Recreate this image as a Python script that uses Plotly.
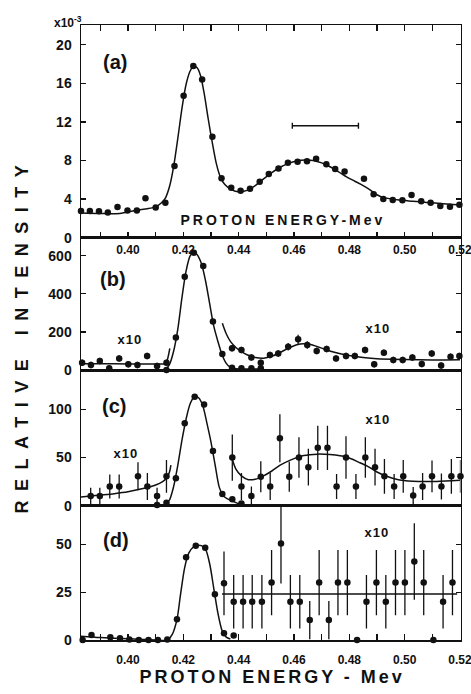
import plotly.graph_objects as go

# ---------------- data ----------------
# panel (a)
a_x = [0.3830,0.3862,0.3895,0.3927,0.3962,0.3998,0.4032,0.4063,0.4100,0.4135,0.4168,0.4201,0.4236,0.4268,
       0.4305,0.4338,0.4373,0.4407,0.4441,0.4476,0.4509,0.4544,0.4578,0.4613,0.4647,0.4680,0.4717,0.4749,
       0.4783,0.4853,0.4888,0.4923,0.4957,0.4992,0.5025,0.5060,0.5094,0.5129,0.5164,0.5198]
a_y = [2.76,2.76,2.73,2.60,3.18,2.83,2.83,4.10,3.14,3.63,7.43,14.7,17.8,16.4,
       10.47,6.15,5.18,4.87,5.08,5.80,6.60,7.18,7.77,7.88,7.91,8.19,7.60,7.12,
       6.87,6.11,4.49,4.00,3.90,3.87,4.42,3.77,3.63,3.28,3.21,3.42]
a_fit_x = [0.383,0.390,0.397,0.403,0.407,0.410,0.412,0.4135,0.415,0.4165,0.418,0.4195,0.421,0.4225,0.4238,
           0.425,0.4262,0.4275,0.429,0.4305,0.432,0.4335,0.435,0.4375,0.440,0.443,0.446,0.449,0.452,0.455,
           0.458,0.461,0.464,0.467,0.470,0.473,0.476,0.479,0.482,0.485,0.4875,0.490,0.4925,0.498,0.503,
           0.508,0.514,0.520]
a_fit_y = [2.55,2.5,2.52,2.85,3.0,3.2,3.6,4.1,5.3,7.4,10.3,13.4,15.9,17.3,17.8,
           17.6,16.8,15.0,12.3,9.8,7.6,6.2,5.5,4.95,4.75,4.9,5.4,6.1,6.75,7.3,
           7.7,7.95,8.05,8.0,7.75,7.35,6.85,6.3,5.85,5.4,4.95,4.45,4.15,3.9,3.78,
           3.66,3.52,3.4]
res_bar_left, res_bar_right, res_bar_y = 0.4594, 0.4833, 11.6

# panel (b)
b_main_x = [0.4139,0.4173,0.4205,0.4238,0.4272,0.4307,0.4341,0.4376,0.4410,0.4446,0.4480]
b_main_y = [0,170,490,616,546,254,84,12,9,9,9]
b_main_fit_x = [0.4135,0.415,0.4165,0.418,0.4195,0.421,0.4225,0.4238,0.425,0.4265,0.428,0.4295,0.431,
                0.4325,0.434,0.4355,0.437,0.439,0.442,0.448]
b_main_fit_y = [0,30,100,215,380,520,600,618,605,560,470,350,230,150,80,35,14,7,5,5]
b_left_x = [0.3834,0.3866,0.3898,0.3932,0.3968,0.4001,0.4034,0.4069,0.4105,0.4139]
b_left_y = [38,26,47,9,61,30,26,73,21,38]
b_left_err = [17,17,17,17,17,17,17,17,17,17]
b_left_fit_x = [0.383,0.390,0.400,0.410,0.4137,0.4145,0.4151]
b_left_fit_y = [33,33,32,32,35,70,114]
b_right_x = [0.4376,0.4410,0.4446,0.4480,0.4513,0.4543,0.4579,0.4615,0.4648,0.4682,0.4718,0.4752,0.4788,
             0.4820,0.4857,0.4890,0.4925,0.4959,0.4993,0.5028,0.5062,0.5098,0.5132,0.5166,0.5198]
b_right_y = [114,105,66,38,79,87,122,161,131,100,110,61,73,73,105,30,91,52,52,66,31,87,23,70,73]
b_right_err = [17,17,17,17,17,17,20,24,20,17,17,17,17,17,17,17,17,17,17,17,17,17,17,17,17]
b_right_fit_x = [0.4341,0.4355,0.437,0.439,0.441,0.443,0.446,0.449,0.452,0.455,0.458,0.461,0.4635,0.466,
                 0.469,0.472,0.476,0.480,0.485,0.490,0.500,0.510,0.520]
b_right_fit_y = [245,190,150,118,96,80,66,62,72,92,115,133,138,134,120,104,88,76,66,59,55,53,54]

# panel (c)
c_main_x = [0.4105,0.4139,0.4173,0.4205,0.4241,0.4275,0.4307,0.4341,0.4377,0.4410]
c_main_y = [0.7,3.1,28.4,85.5,113,105,56.7,12.1,6.6,2.4]
c_main_fit_x = [0.412,0.4135,0.415,0.4165,0.418,0.4195,0.421,0.4225,0.424,0.4255,0.427,0.4285,0.430,
                0.4315,0.433,0.4345,0.436,0.438,0.440,0.4425]
c_main_fit_y = [0,1.5,6,20,42,68,90,106,113,112,104,86,66,42,19,10,7,4.5,2,0]
c_left_x = [0.3865,0.3898,0.3934,0.3968,0.4036,0.4070,0.4105,0.4139]
c_left_y = [10,10,20,20,30.5,20,10,30.5]
c_left_err = [8.6,8.6,12.5,12.5,14.5,14,8.6,17]
c_left_fit_x = [0.383,0.390,0.395,0.400,0.405,0.410,0.4125,0.4139,0.415,0.4155]
c_left_fit_y = [9,11,12.5,14.5,17.5,21.5,25,28.5,35,42]
c_right_x = [0.4377,0.4410,0.4446,0.4480,0.4514,0.4549,0.4583,0.4618,0.4652,0.4686,0.4721,0.4754,0.4788,
             0.4824,0.4858,0.4893,0.4927,0.4962,0.4995,0.5031,0.5065,0.5099,0.5133,0.5169,0.5202]
c_right_y = [50,20,10,30,20,70,30,50,40,60,60,20,50,20,50,40,30.5,20,30.5,10.5,20,30.5,20,30.5,30.5]
c_right_err = [24,14,10,16,14,25,15.5,21,19,23,23,13,22,13,21,19,18,13,17,9,14,16.5,13.5,18,17]
c_right_fit_x = [0.4375,0.439,0.441,0.4435,0.446,0.449,0.452,0.455,0.4585,0.4635,0.4685,0.473,0.479,
                 0.4835,0.4865,0.490,0.4935,0.497,0.503,0.5115,0.520]
c_right_fit_y = [50,38,31,27,27.5,31,36,42,47,52,53.5,53,50.5,45,41,35,30.5,27.5,25.4,25.2,26.4]

# panel (d)
d_main_x = [0.3836,0.3868,0.3936,0.3971,0.4005,0.4039,0.4074,0.4108,0.4142,0.4177,0.4210,0.4245,0.4279,
            0.4314,0.4347,0.4382]
d_main_y = [0,2.6,1.4,0.9,0.3,0,0,0,0.2,10.8,43.2,49.3,48.2,23.9,3.5,2.3]
d_main_fit_x = [0.383,0.390,0.400,0.405,0.410,0.4142,0.416,0.4177,0.419,0.4205,0.422,0.4235,0.425,0.4265,
                0.428,0.4295,0.431,0.4325,0.434,0.4355,0.437]
d_main_fit_y = [2.0,1.3,0.6,0.3,0,0,3,10.8,24,38,45.5,48.5,49.5,49.3,47.5,40,27,14,5,1.5,0.5]
d_right_x = [0.4347,0.4382,0.4416,0.4449,0.4484,0.4519,0.4553,0.4587,0.4621,0.4657,0.4691,0.4726,0.4759,
             0.4793,0.4828,0.4862,0.4898,0.4932,0.4967,0.5001,0.5035,0.5069,0.5104,0.5139,0.5173]
d_right_y = [29.6,20,20,20,20,30,50.5,20,20,10.4,30,10.4,30,30,0,20,30,20,30,30,41,30,0,20,30]
d_right_err = [16.7,14,14,14,14,17,21,14,14,10,17,10,17,17,0,14,17,14,17,17,20,17,0,14,17]
d_right_fit_x = [0.434,0.519]
d_right_fit_y = [24,24]

x_tick_vals = [0.40,0.42,0.44,0.46,0.48,0.50,0.52]
x_tick_text = ['0.40','0.42','0.44','0.46','0.48','0.50','0.52']
a_ticks = [0,4,8,12,16,20]
b_ticks = [0,200,400,600]
c_ticks = [0,50,100]
d_ticks = [0,25,50]

# ---------------- layout helpers ----------------
W, H = 471, 694
def px(x): return x / W
def py(y): return 1 - y / H

FONT = "Liberation Sans"
INK = "#111111"
X_RANGE = [0.383, 0.5202]
XDOM = [px(81), px(460.5)]
panels = {  # pixel top, bottom, y range
    1: (25, 237.7, [0, 22.04]),
    2: (237.7, 370, [0, 694.5]),
    3: (370, 505.7, [0, 140.8]),
    4: (505.7, 640, [0, 70.2]),
}

fig = go.Figure()

def pts(x, y, n, err=None):
    kw = {}
    if err is not None:
        kw['error_y'] = dict(type='data', array=err, visible=True, color=INK, thickness=1.3, width=0)
    fig.add_trace(go.Scatter(x=x, y=y, mode='markers', xaxis=f'x{n if n>1 else ""}', yaxis=f'y{n if n>1 else ""}',
                             marker=dict(color=INK, size=6.5), cliponaxis=False, showlegend=False, **kw))

def curve(x, y, n, shape='spline'):
    fig.add_trace(go.Scatter(x=x, y=y, mode='lines', xaxis=f'x{n if n>1 else ""}', yaxis=f'y{n if n>1 else ""}',
                             line=dict(color=INK, width=1.5, shape=shape, smoothing=0.8),
                             cliponaxis=False, showlegend=False))

# (a)
curve(a_fit_x, a_fit_y, 1)
pts(a_x, a_y, 1)
fig.add_trace(go.Scatter(x=[(res_bar_left + res_bar_right) / 2], y=[res_bar_y], mode='markers',
                         marker=dict(size=1, color='rgba(0,0,0,0)'),
                         error_x=dict(type='constant', value=(res_bar_right - res_bar_left) / 2,
                                      color=INK, thickness=1.4, width=3),
                         showlegend=False))
# (b)
curve(b_main_fit_x, b_main_fit_y, 2)
curve(b_left_fit_x, b_left_fit_y, 2)
curve(b_right_fit_x, b_right_fit_y, 2)
pts(b_main_x, b_main_y, 2)
pts(b_left_x, b_left_y, 2, b_left_err)
pts(b_right_x, b_right_y, 2, b_right_err)
# (c)
curve(c_main_fit_x, c_main_fit_y, 3)
curve(c_left_fit_x, c_left_fit_y, 3)
curve(c_right_fit_x, c_right_fit_y, 3)
pts(c_main_x, c_main_y, 3)
pts(c_left_x, c_left_y, 3, c_left_err)
pts(c_right_x, c_right_y, 3, c_right_err)
# (d)
curve(d_main_fit_x, d_main_fit_y, 4)
curve(d_right_fit_x, d_right_fit_y, 4, shape='linear')
pts(d_main_x, d_main_y, 4)
pts(d_right_x, d_right_y, 4, d_right_err)

layout = dict(width=W, height=H, margin=dict(l=0, r=0, t=0, b=0, pad=0), autosize=False,
              paper_bgcolor='white', plot_bgcolor='white', showlegend=False)

yticks = {1: a_ticks, 2: b_ticks, 3: c_ticks, 4: d_ticks}
for n, (top, bot, yr) in panels.items():
    sfx = '' if n == 1 else str(n)
    xa = dict(domain=XDOM, range=X_RANGE, anchor=f'y{sfx}', showgrid=False, zeroline=False,
              showline=True, linecolor=INK, linewidth=1.5, mirror=True, fixedrange=True,
              automargin=False)
    if n in (1, 4):
        xa.update(tickmode='array', tickvals=x_tick_vals, ticktext=x_tick_text, ticks='inside',
                  ticklen=6, tickwidth=1.3, tickcolor=INK, ticklabeloverflow='allow',
                  minor=dict(tickmode='linear', tick0=0.39, dtick=0.01, ticks='inside', ticklen=6,
                             tickwidth=1.3, tickcolor=INK, showgrid=False),
                  tickfont=dict(family=FONT, size=12, color=INK, weight='bold'))
        xa['mirror'] = 'ticks' if n == 1 else True
        xa['ticklabelstandoff'] = 0 if n == 1 else 8
    else:
        xa.update(showticklabels=False, ticks='')
    ya = dict(domain=[py(bot), py(top)], range=yr, anchor=f'x{sfx}', showgrid=False, zeroline=False,
              showline=True, linecolor=INK, linewidth=1.5, mirror='ticks', ticks='inside', ticklen=5,
              tickwidth=1.3, tickcolor=INK, tickmode='array', tickvals=yticks[n],
              tickfont=dict(family=FONT, size=14, color=INK, weight='bold'), ticklabelstandoff=5,
              fixedrange=True, automargin=False)
    layout[f'xaxis{sfx}'] = xa
    layout[f'yaxis{sfx}'] = ya

def ann(text, x, y, size, xanchor='center', yanchor='middle', angle=0):
    return dict(text=text, x=px(x), y=py(y), xref='paper', yref='paper', showarrow=False,
                xanchor=xanchor, yanchor=yanchor, textangle=angle,
                font=dict(family=FONT, size=size, color=INK, weight='bold'))

layout['annotations'] = [
    ann('x10<sup>-3</sup>', 84, 22, 12, xanchor='right'),
    ann('(a)', 115, 62, 20),
    ann('(b)', 113, 279, 20),
    ann('(c)', 114, 406, 20),
    ann('(d)', 116, 540, 20),
    ann('x10', 130, 339, 13),
    ann('x10', 378, 328, 13),
    ann('x10', 126, 453, 13),
    ann('x10', 378, 419, 13),
    ann('x10', 377, 532, 13),
    ann('PROTON ENERGY-Mev', 283, 220, 14),
    ann('PROTON ENERGY - Mev', 272, 677, 18),
    ann('RELATIVE INTENSITY', 22, 335, 18, angle=-90),
]
fig.update_layout(**layout)

post = """
var gd = document.getElementById('{plot_id}');
function applySpacing(){
  var specs = {'RELATIVE INTENSITY':'9.5px','PROTON ENERGY-Mev':'3px','PROTON ENERGY - Mev':'3px','x10':'1px'};
  gd.querySelectorAll('text').forEach(function(t){
    var s = t.textContent;
    if (Object.prototype.hasOwnProperty.call(specs, s)) { t.style.letterSpacing = specs[s]; }
  });
}
applySpacing();
if (gd.on) { gd.on('plotly_afterplot', applySpacing); }
"""
fig.write_html("out.html", post_script=post, config={'displayModeBar': False, 'staticPlot': True})
